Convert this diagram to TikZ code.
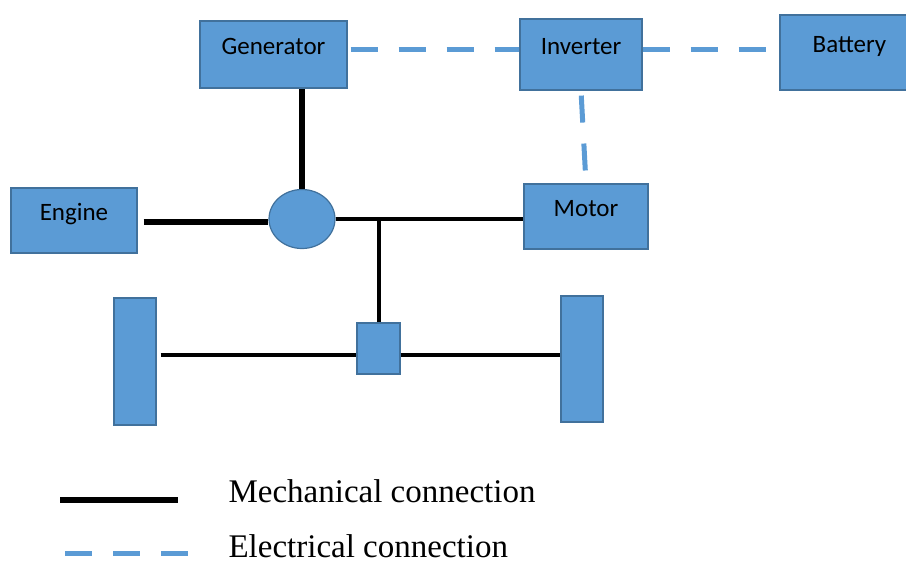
\documentclass[tikz,border=0pt]{standalone}
\usepackage{fontspec}
\setmainfont{Liberation Serif}
\newfontfamily\boxfont{Carlito}
\usetikzlibrary{shapes.geometric}
\definecolor{boxblue}{HTML}{5B9BD5}
\definecolor{boxedge}{HTML}{41719C}
\definecolor{elecblue}{HTML}{5B9BD5}

\begin{document}
\begin{tikzpicture}[x=1pt,y=-1pt,
  part/.style={draw=boxedge,fill=boxblue,line width=1.2pt,inner sep=0pt,
    font=\boxfont\fontsize{25}{30}\selectfont,text height=16pt,text depth=16pt},
  mech/.style={line width=5.5pt},
  mechthin/.style={line width=3.5pt},
  elec/.style={draw=elecblue,line width=5pt,dash pattern=on 27pt off 21pt},
  legendtext/.style={anchor=base west,inner ysep=0pt,text depth=0pt,
    font=\fontsize{33}{38}\selectfont}]
\clip (0,0) rectangle (906,563);
\node[part,minimum width=147pt,minimum height=67pt] (gen) at (273.5,54.5) {Generator};
\node[part,minimum width=122pt,minimum height=71pt] (inv) at (581,54.5) {Inverter};
\node[part,minimum width=139pt,minimum height=75pt] (bat) at (849.5,52.5) {Battery};
\node[part,minimum width=124pt,minimum height=65pt] (mot) at (586,216.5) {Motor};
\node[part,minimum width=126pt,minimum height=65pt] (eng) at (74,220.5) {Engine};
\node[part,ellipse,minimum width=66pt,minimum height=59pt] (pg) at (302,219) {};
\node[part,minimum width=43pt,minimum height=51pt] (diff) at (378.5,348.5) {};
\node[part,minimum width=42pt,minimum height=127pt] (lw) at (135,361.5) {};
\node[part,minimum width=42pt,minimum height=126pt] (rw) at (582,359) {};
\coordinate (shaft) at (0,222);
\coordinate (axle) at (0,355);
% mechanical links
\draw[mech] (pg.north) -- (pg.north |- gen.south);
\draw[mech,shorten <=6pt] (eng.east |- shaft) -- (pg.west |- shaft);
\draw[mechthin] (pg.east) -- (pg.east -| mot.west);
\draw[line width=4pt] (diff.north) -- (diff.north |- pg.east);
\draw[line width=4.5pt,shorten <=4pt] (lw.east |- axle) -- (diff.west |- axle);
\draw[mechthin] (diff.east |- axle) -- (rw.west |- axle);
% electrical links
\draw[elec,shorten <=3pt] ([yshift=5pt]gen.east) -- ([yshift=5pt]inv.west);
\draw[elec] ([yshift=5pt]inv.east) -- ([yshift=3pt]bat.west);
\draw[elec,shorten <=5pt] (inv.south) -- (mot.north);
% legend
\coordinate (mk) at (60,500);
\coordinate (ek) at (65,553);
\draw[line width=6pt] (mk) -- ++(118,0);
\draw[elec] (ek) -- ++(125,0);
\node[legendtext] (mtxt) at (225,502) {Mechanical connection};
\node[legendtext] (etxt) at (225,557) {Electrical connection};
\end{tikzpicture}
\end{document}
